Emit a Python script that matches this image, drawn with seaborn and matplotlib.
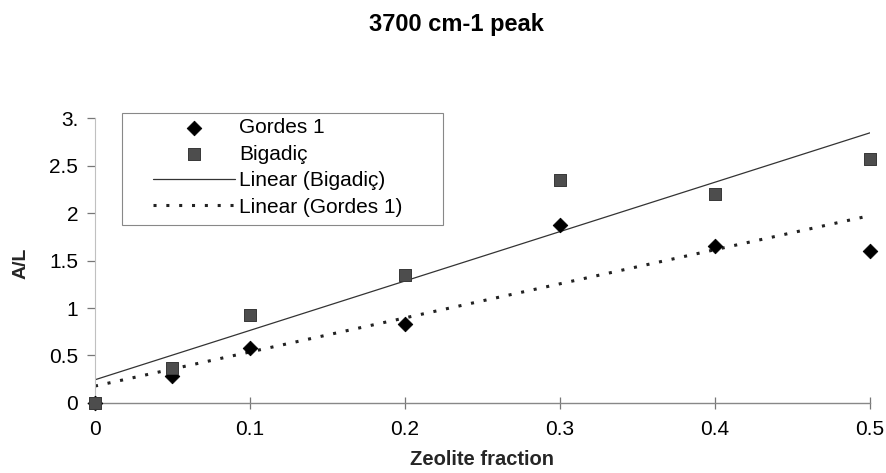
import numpy as np
import pandas as pd
import matplotlib
matplotlib.use('Agg')
import matplotlib.pyplot as plt
from matplotlib.patches import Rectangle
import seaborn as sns

# values
zeolite_fraction = [0, 0.05, 0.1, 0.2, 0.3, 0.4, 0.5]
gordes_1 = [0, 0.28, 0.58, 0.83, 1.87, 1.65, 1.60]
bigadic = [0, 0.37, 0.93, 1.35, 2.35, 2.20, 2.57]
x_ticks = [0, 0.1, 0.2, 0.3, 0.4, 0.5]
y_ticks = [0, 0.5, 1, 1.5, 2, 2.5, 3]
y_tick_labels = ['0', '0.5', '1', '1.5', '2', '2.5', '3.']


def main():
    sns.set_style('white')
    plt.rcParams['font.family'] = ['Liberation Sans', 'DejaVu Sans']
    plt.rcParams['text.color'] = 'black'

    df = pd.DataFrame({'x': zeolite_fraction, 'Gordes 1': gordes_1, 'Bigadiç': bigadic})

    fig = plt.figure(figsize=(8.86, 4.73), dpi=100)
    ax = fig.add_axes([0.1072, 0.148, 0.8747, 0.6025])

    # trend lines like excel's "Linear (...)"
    xs = np.array([0, 0.5])
    kb = np.polyfit(df.x, df['Bigadiç'], 1)
    kg = np.polyfit(df.x, df['Gordes 1'], 1)

    sns.scatterplot(x='x', y='Gordes 1', data=df, ax=ax, marker='D', s=55,
                    color='black', edgecolor='black', label='Gordes 1', zorder=3,
                    clip_on=False)
    sns.scatterplot(x='x', y='Bigadiç', data=df, ax=ax, marker='s', s=80,
                    color='#4d4d4d', edgecolor='#3a3a3a', label='Bigadiç', zorder=3,
                    clip_on=False)
    sns.lineplot(x=xs, y=np.polyval(kb, xs), ax=ax, color='#333333', lw=0.9,
                 label='Linear (Bigadiç)')
    sns.lineplot(x=xs, y=np.polyval(kg, xs), ax=ax, color='#222222', lw=2.2,
                 linestyle=(0, (1, 3.2)), label='Linear (Gordes 1)')

    ax.set_xlim(0, 0.5)
    ax.set_ylim(0, 3)
    ax.set_xticks(x_ticks)
    ax.set_xticklabels([str(t) for t in x_ticks])
    ax.set_yticks(y_ticks)
    ax.set_yticklabels(y_tick_labels)
    ax.tick_params(axis='both', labelsize=15, labelcolor='black', width=0.9,
                   left=True, bottom=True, color='#777777')
    ax.tick_params(axis='x', direction='inout', length=8, pad=8)
    ax.tick_params(axis='y', direction='out', length=6, pad=6)
    for s in ['top', 'right']:
        ax.spines[s].set_visible(False)
    ax.spines['left'].set_color('#c0c0c0')
    ax.spines['bottom'].set_color('#888888')
    ax.spines['left'].set_linewidth(0.8)
    ax.spines['bottom'].set_linewidth(1.0)

    ax.set_xlabel('Zeolite fraction', fontsize=14.5, fontweight='bold')
    ax.set_ylabel('A/L', fontsize=14, fontweight='bold')
    ax.xaxis.set_label_coords(0.5, -0.165)
    ax.yaxis.set_label_coords(-0.085, 0.49)
    fig.text(0.515, 0.949, '3700 cm-1 peak', ha='center', va='center',
             fontsize=17, fontweight='bold')

    # excel style legend box, wider than its contents
    ax.add_patch(Rectangle((0.0348, 0.6246), 0.4142, 0.3930, transform=ax.transAxes,
                           fill=True, facecolor='white', edgecolor='#888888', lw=0.8,
                           clip_on=False, zorder=4))
    leg = ax.legend(loc='upper left', bbox_to_anchor=(0.0748, 1.0), fontsize=15,
                    frameon=False, handlelength=3.94, borderpad=0, labelspacing=0.36,
                    handletextpad=0.2, borderaxespad=0)
    leg.set_zorder(5)

    fig.savefig('out.png', dpi=100)


if __name__ == '__main__': main()
